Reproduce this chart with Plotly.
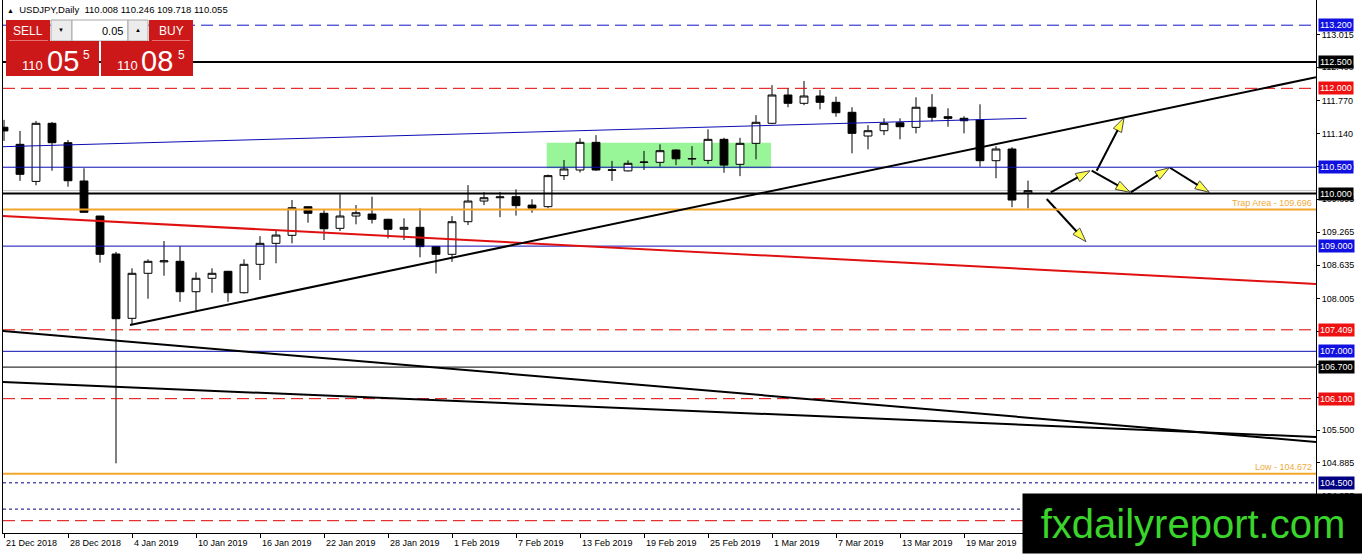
import plotly.graph_objects as go

# daily USDJPY bars
dates = ["21 Dec 2018", "24 Dec 2018", "26 Dec 2018", "27 Dec 2018", "28 Dec 2018",
         "31 Dec 2018", "2 Jan 2019", "3 Jan 2019", "4 Jan 2019", "7 Jan 2019",
         "8 Jan 2019", "9 Jan 2019", "10 Jan 2019", "11 Jan 2019", "14 Jan 2019",
         "15 Jan 2019", "16 Jan 2019", "17 Jan 2019", "18 Jan 2019", "21 Jan 2019",
         "22 Jan 2019", "23 Jan 2019", "24 Jan 2019", "25 Jan 2019", "28 Jan 2019",
         "29 Jan 2019", "30 Jan 2019", "31 Jan 2019", "1 Feb 2019", "4 Feb 2019",
         "5 Feb 2019", "6 Feb 2019", "7 Feb 2019", "8 Feb 2019", "11 Feb 2019",
         "12 Feb 2019", "13 Feb 2019", "14 Feb 2019", "15 Feb 2019", "18 Feb 2019",
         "19 Feb 2019", "20 Feb 2019", "21 Feb 2019", "22 Feb 2019", "25 Feb 2019",
         "26 Feb 2019", "27 Feb 2019", "28 Feb 2019", "1 Mar 2019", "4 Mar 2019",
         "5 Mar 2019", "6 Mar 2019", "7 Mar 2019", "8 Mar 2019", "11 Mar 2019",
         "12 Mar 2019", "13 Mar 2019", "14 Mar 2019", "15 Mar 2019", "18 Mar 2019",
         "19 Mar 2019", "20 Mar 2019", "21 Mar 2019", "22 Mar 2019", "25 Mar 2019"]

opens = [111.26, 110.935, 110.23, 111.335, 110.966, 110.238, 109.572, 108.85, 107.627, 108.483,
         108.70, 108.711, 108.133, 108.388, 108.521, 108.114, 108.654, 109.053, 109.205, 109.749,
         109.624, 109.338, 109.572, 109.61, 109.51, 109.32, 109.357, 108.99, 108.844, 109.464,
         109.857, 109.92, 109.94, 109.78, 109.75, 110.34, 110.447, 110.973, 110.44, 110.43,
         110.59, 110.593, 110.827, 110.655, 110.63, 111.03, 110.555, 110.954, 111.335, 111.873,
         111.715, 111.854, 111.734, 111.544, 111.093, 111.194, 111.346, 111.258, 111.64, 111.46,
         111.43, 111.397, 110.624, 110.846, 110.008]
highs = [111.40, 111.19, 111.38, 111.36, 111.017, 110.48, 109.575, 108.89, 108.578, 108.749,
         109.097, 109.0, 108.5, 108.578, 108.53, 108.749, 109.19, 109.29, 109.876, 109.76,
         109.686, 109.985, 109.78, 109.94, 109.52, 109.528, 109.72, 109.0, 109.57, 110.16,
         110.023, 110.03, 110.08, 109.89, 110.36, 110.637, 111.05, 111.11, 110.62, 110.63,
         110.81, 110.935, 110.84, 110.90, 111.22, 111.06, 111.06, 111.49, 112.06, 112.0,
         112.14, 111.97, 111.84, 111.64, 111.30, 111.43, 111.43, 111.83, 111.89, 111.62,
         111.47, 111.696, 110.90, 110.88, 110.246]
lows = [111.0, 110.24, 110.156, 110.433, 110.13, 109.64, 108.685, 104.87, 107.50, 108.0,
        108.437, 107.94, 107.75, 108.114, 107.94, 108.1, 108.355, 108.673, 109.053, 109.445,
        109.116, 109.287, 109.414, 109.43, 109.148, 109.116, 108.787, 108.48, 108.70, 109.40,
        109.78, 109.55, 109.58, 109.635, 109.72, 110.257, 110.40, 110.43, 110.24, 110.42,
        110.447, 110.51, 110.54, 110.54, 110.56, 110.395, 110.33, 110.65, 111.32, 111.64,
        111.68, 111.60, 111.46, 110.764, 110.84, 111.11, 111.03, 111.144, 111.365, 111.27,
        111.144, 110.51, 110.29, 109.74, 109.718]
closes = [111.19, 110.365, 111.335, 110.966, 110.243, 109.643, 108.844, 107.62, 108.483, 108.711,
          108.72, 108.133, 108.388, 108.483, 108.114, 108.654, 109.053, 109.21, 109.73, 109.624,
          109.33, 109.572, 109.635, 109.51, 109.32, 109.357, 108.99, 108.844, 109.464, 109.857,
          109.92, 109.935, 109.77, 109.72, 110.34, 110.466, 110.973, 110.447, 110.45, 110.574,
          110.598, 110.814, 110.66, 110.665, 111.03, 110.54, 110.954, 111.354, 111.873, 111.715,
          111.854, 111.734, 111.536, 111.144, 111.194, 111.334, 111.27, 111.64, 111.45, 111.43,
          111.384, 110.624, 110.846, 109.876, 110.055]

# horizontal levels (the last two carry no visible price tag)
level_prices = [113.2, 112.5, 112.0, 110.5, 110.0, 109.0, 107.409, 107.0, 106.7, 106.1, 104.5, 104.0, 103.78]
level_kinds = ["blue_dash", "black_thick", "red_dash", "blue", "black_thick", "blue", "red_dash",
               "blue", "black", "red_dash", "navy_dot", "navy_dot", "red_dash"]
level_tagged = [True] * 11 + [False, False]

trap_area = 109.696
low_level = 104.672

# trend lines (bar index, price)
rise_x = [7.875, 82]
rise_y = [107.50, 112.21]
channel_x = [-0.0625, 63.92]
channel_y = [110.89, 111.43]
red_x = [-0.0625, 82]
red_y = [109.572, 108.28]
fall1_x = [-0.0625, 82]
fall1_y = [107.386, 105.276]
fall2_x = [-0.0625, 82]
fall2_y = [106.416, 105.371]

# consolidation box
box_x = [33.92, 47.94]
box_y = [110.48, 110.966]

# projected path arrows
arrow_x0 = [65.42, 68.29, 67.98, 70.42, 72.875, 65.17]
arrow_y0 = [110.023, 110.433, 110.433, 110.023, 110.49, 109.895]
arrow_x1 = [67.875, 70.0, 70.375, 72.83, 75.33, 67.625]
arrow_y1 = [110.433, 111.441, 110.023, 110.49, 110.023, 109.084]

ytick_vals = [113.015, 112.4, 111.77, 111.14, 110.51, 109.895, 109.265, 108.635, 108.005,
              107.375, 106.745, 106.115, 105.5, 104.885, 104.255]

FONT = "Liberation Sans"
L, R, T, B = 3, 46, 0, 21
W, H = 1362 - L - R, 554 - T - B


def px(x):
    return (x - L) / W


def py(y):
    return 1 - (y - T) / H


styles = {
    "blue_dash": dict(color="#1414c8", width=1, dash="12px,6px"),
    "black_thick": dict(color="black", width=2, dash="solid"),
    "red_dash": dict(color="#e00000", width=1, dash="12px,6px"),
    "blue": dict(color="#0c0cb4", width=1, dash="solid"),
    "black": dict(color="black", width=1, dash="solid"),
    "navy_dot": dict(color="#000080", width=1, dash="3px,3px"),
}
tag_colors = {
    "blue_dash": "#1010e0", "black_thick": "black", "red_dash": "#ee1111",
    "blue": "#1010e0", "black": "black", "navy_dot": "#000080",
}

idx = list(range(len(dates)))

fig = go.Figure()

fig.add_trace(go.Candlestick(
    x=idx, open=opens, high=highs, low=lows, close=closes,
    increasing=dict(line=dict(color="black", width=1), fillcolor="white"),
    decreasing=dict(line=dict(color="black", width=1), fillcolor="black"),
    whiskerwidth=0, hoverinfo="skip", showlegend=False,
))

shapes = []
# green box behind candles
shapes.append(dict(type="rect", xref="x", yref="y", x0=box_x[0], x1=box_x[1],
                   y0=box_y[0], y1=box_y[1], fillcolor="#98f598", line=dict(width=0),
                   layer="below"))

# bid line
shapes.append(dict(type="line", xref="paper", yref="y", x0=0, x1=1, y0=closes[-1], y1=closes[-1],
                   line=dict(color="#c0c0c0", width=1), layer="below"))

for p, k in zip(level_prices, level_kinds):
    shapes.append(dict(type="line", xref="paper", yref="y", x0=0, x1=1, y0=p, y1=p,
                       line=styles[k]))

for p in [trap_area, low_level]:
    shapes.append(dict(type="line", xref="paper", yref="y", x0=0, x1=1, y0=p, y1=p,
                       line=dict(color="#f2a62a", width=2)))

for xs, ys, col, w in [(channel_x, channel_y, "#0c0cb4", 1), (red_x, red_y, "#e01010", 2),
                       (rise_x, rise_y, "black", 2), (fall1_x, fall1_y, "black", 2),
                       (fall2_x, fall2_y, "black", 2)]:
    shapes.append(dict(type="line", xref="x", yref="y", x0=xs[0], x1=xs[1], y0=ys[0], y1=ys[1],
                       line=dict(color=col, width=w)))

for a, b, c, d in zip(arrow_x0, arrow_y0, arrow_x1, arrow_y1):
    fig.add_trace(go.Scatter(
        x=[a, c], y=[b, d], mode="lines+markers", hoverinfo="skip", showlegend=False,
        line=dict(color="black", width=2),
        marker=dict(symbol=["circle", "arrow"], size=[0, 15], angleref="previous",
                    color="#ffff00", line=dict(color="black", width=[0, 1])),
    ))


def prect(x0, y0, x1, y1, fill, line=None):
    return dict(type="rect", xref="paper", yref="paper", x0=px(x0), x1=px(x1),
                y0=py(y1), y1=py(y0), fillcolor=fill,
                line=dict(color=line or fill, width=1 if line else 0), layer="above")


# one click trading panel
RED = "#cc1818"
shapes += [
    prect(6, 20, 50, 41, RED),
    prect(51, 20, 72, 41, "#ececec", "#a8a8a8"),
    prect(72, 20, 128, 41, "white", "#a8a8a8"),
    prect(128, 20, 148, 41, "#ececec", "#a8a8a8"),
    prect(149, 20, 193, 41, RED),
    prect(6, 41, 99, 76, RED),
    prect(101, 41, 193, 76, RED),
    prect(9, 40, 48, 41, "#e87070"),
    prect(152, 40, 190, 41, "#e87070"),
]

annotations = []


def ptext(x, y, text, size, color="black", anchor="center", family=FONT):
    annotations.append(dict(xref="paper", yref="paper", x=px(x), y=py(y), text=text,
                            showarrow=False, xanchor=anchor, yanchor="middle",
                            font=dict(family=family, size=size, color=color)))


ptext(5, 9, "<span style='font-size:7px'>▲</span>  USDJPY,Daily  %.3f %.3f %.3f %.3f"
      % (opens[-1], highs[-1], lows[-1], closes[-1]), 9.5, anchor="left")

ptext(28, 31, "SELL", 12, "white")
ptext(171, 31, "BUY", 12, "white")
ptext(61, 30, "▼", 6)
ptext(138, 30, "▲", 6)
ptext(125, 31, "0.05", 11, anchor="right")
ptext(32, 66, "110", 13, "white")
ptext(63, 61, "05", 29, "white")
ptext(86, 55, "5", 12, "white")
ptext(127, 66, "110", 13, "white")
ptext(157, 61, "08", 29, "white")
ptext(181, 55, "5", 12, "white")

# price tags on the right axis
for p, k, tag in zip(level_prices, level_kinds, level_tagged):
    if tag:
        annotations.append(dict(xref="paper", yref="y", x=px(1318), y=p, xanchor="left",
                                yanchor="middle", text="%.3f" % p, showarrow=False,
                                bgcolor=tag_colors[k], borderpad=1,
                                font=dict(family=FONT, size=9, color="white")))

annotations.append(dict(xref="paper", yref="y", x=px(1314), y=trap_area, xanchor="right",
                        yanchor="bottom", text="Trap Area - %.3f" % trap_area, showarrow=False,
                        font=dict(family=FONT, size=9, color="#f0aa3a")))
annotations.append(dict(xref="paper", yref="y", x=px(1314), y=low_level, xanchor="right",
                        yanchor="bottom", text="Low - %.3f" % low_level, showarrow=False,
                        font=dict(family=FONT, size=9, color="#f0aa3a")))

# date labels, every 4th bar, left aligned at the tick (the last one sits under the watermark)
label_idx = idx[::4][:-1]
for i in label_idx:
    annotations.append(dict(xref="x", yref="paper", x=i, y=py(543), xanchor="left",
                            yanchor="middle", text=dates[i], showarrow=False,
                            font=dict(family=FONT, size=9, color="black")))

# watermark block, drawn last so it sits on top
annotations.append(dict(xref="paper", yref="paper", x=px(1022), y=py(554), xanchor="left",
                        yanchor="bottom", width=340, height=59, bgcolor="black",
                        borderpad=0, text="fxdailyreport.com", showarrow=False,
                        font=dict(family=FONT, size=40, color="#3ad52b")))

fig.update_layout(
    width=1362, height=554,
    margin=dict(l=L, r=R, t=T, b=B),
    paper_bgcolor="white", plot_bgcolor="white",
    shapes=shapes, annotations=annotations,
    showlegend=False,
    xaxis=dict(range=[-0.0625, 82], rangeslider=dict(visible=False), showgrid=False,
               zeroline=False, showline=True, linecolor="black", linewidth=1,
               tickvals=idx[::4], ticktext=[""] * len(idx[::4]), ticks="outside",
               ticklen=4, tickcolor="black"),
    yaxis=dict(range=[103.546, 113.679], side="right", showgrid=False, zeroline=False,
               showline=True, linecolor="black", linewidth=1, mirror=True,
               tickvals=ytick_vals, tickformat=".3f", ticks="outside", ticklen=3,
               tickcolor="black", tickfont=dict(family=FONT, size=9, color="black")),
)

fig.write_html("out.html", config={"displayModeBar": False},
               post_script="document.body.style.margin='0';document.body.style.overflow='hidden';")
